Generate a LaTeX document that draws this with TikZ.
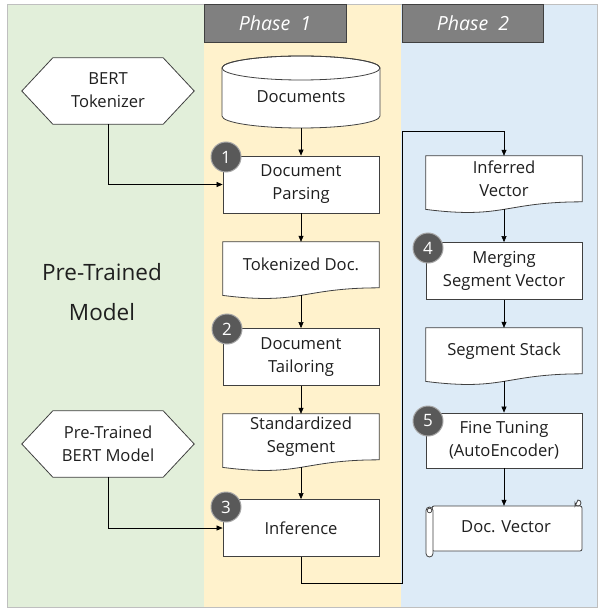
\documentclass[tikz,border=0pt]{standalone}
\usepackage{fontspec}
\setmainfont{Open Sans}
\usetikzlibrary{calc,arrows.meta}
\definecolor{bggreen}{HTML}{E2EFDA}
\definecolor{bgorange}{HTML}{FFF2CC}
\definecolor{bgblue}{HTML}{DDEBF7}
\definecolor{hdrgray}{HTML}{808080}
\definecolor{linegray}{HTML}{404040}
\definecolor{badgegray}{HTML}{595959}
\definecolor{badgering}{HTML}{A6A6A6}
\definecolor{textc}{HTML}{1F1F1F}
\definecolor{framegray}{HTML}{BFBFBF}
\newcommand\docshape[1]{\path[boxline] (#1.north west) -- (#1.north east) -- ($(#1.north east)!0.802!(#1.south east)$) .. controls ($(#1.north)!0.802!(#1.south)$) and ($(#1.north)!1.107!(#1.south)$) .. ($(#1.north west)!0.934!(#1.south west)$) -- cycle;}
\newcommand\hexshape[1]{\path[boxline] (#1.west) -- ($(#1.north west)+(31,0)$) -- ($(#1.north east)+(-31,0)$) -- (#1.east) -- ($(#1.south east)+(-31,0)$) -- ($(#1.south west)+(31,0)$) -- cycle;}
\begin{document}
\begin{tikzpicture}[x=1pt,y=-1pt,
  boxline/.style={draw=linegray, line width=0.8pt, fill=white},
  frame/.style={inner sep=0pt, minimum width=156pt, minimum height=57pt},
  hexframe/.style={inner sep=0pt, minimum width=172pt, minimum height=66pt},
  txt/.style={font=\fontsize{16.6}{23}\selectfont, align=center, text=textc, inner sep=0pt},
  procbox/.style={boxline, rectangle, minimum width=156pt, minimum height=57pt, inner sep=0pt, txt},
  badge/.style={circle, fill=badgegray, draw=badgering, line width=1pt, minimum size=30pt, inner sep=0pt, text=white, font=\fontsize{17}{17}\selectfont},
  arr/.style={-{Triangle[length=6pt,width=5pt]}, line width=0.6pt, black},
  hdr/.style={fill=hdrgray, draw=linegray, line width=0.8pt},
  hdrtxt/.style={text=white, font=\itshape\fontsize{19.5}{19.5}\selectfont, inner sep=0pt}
]
\useasboundingbox (0,0) rectangle (598,609);
% backgrounds
\fill[bggreen] (7,4) rectangle (204,607);
\fill[bgorange] (204,4) rectangle (401,607);
\fill[bgblue] (401,4) rectangle (597,607);
\draw[framegray, line width=0.8pt] (7,4) rectangle (597,607);
% headers
\draw[hdr] (204,4) rectangle (346,42);
\node[hdrtxt] (ph1) at (275,23) {Phase\ \ 1};
\draw[hdr] (402,4) rectangle (543,42);
\node[hdrtxt] (ph2) at (473,23) {Phase\ \ 2};
% side label
\node[text=textc, align=center, font=\fontsize{22.5}{40}\selectfont, inner sep=0pt] (ptm) at (102,292) {Pre-Trained\\Model};
% hexagons
\node[hexframe] (tokz) at (108,91) {};
\hexshape{tokz}
\node[txt] (tokz-t) at (108,90.5) {BERT\\Tokenizer};
\node[hexframe] (bertm) at (108,444) {};
\hexshape{bertm}
\node[txt] (bertm-t) at (108,443.5) {Pre-Trained\\BERT Model};
% cylinder
\node[inner sep=0pt, minimum width=158pt, minimum height=72pt] (docs) at (301,92) {};
\path[boxline] (222,68) -- (222,116) arc[start angle=180, end angle=0, x radius=79, y radius=12] -- (380,68) arc[start angle=0, end angle=-180, x radius=79, y radius=12] -- cycle;
\draw[linegray, line width=0.8pt] (301,68) ellipse[x radius=79, y radius=12];
\node[txt] (docs-t) at (301,97) {Documents};
% phase 1 column
\node[procbox] (parse) at (301,184.5) {Document\\Parsing};
\node[frame] (tokd) at (301,270.5) {};
\docshape{tokd}
\coordinate (tokd-b) at ($(tokd.north)!0.933!(tokd.south)$);
\node[txt] (tokd-t) at (301,264) {Tokenized Doc.};
\node[procbox] (tail) at (301,357) {Document\\Tailoring};
\node[frame] (std) at (301,442.5) {};
\docshape{std}
\coordinate (std-b) at ($(std.north)!0.933!(std.south)$);
\node[txt] (std-t) at (301,436.5) {Standardized\\Segment};
\node[procbox] (inf) at (301,528) {Inference};
% phase 2 column
\node[frame] (iv) at (504,184.5) {};
\docshape{iv}
\coordinate (iv-b) at ($(iv.north)!0.933!(iv.south)$);
\node[txt] (iv-t) at (504,178.5) {Inferred\\Vector};
\node[procbox] (merge) at (504,271) {Merging\\Segment Vector};
\node[frame] (stack) at (504,356.5) {};
\docshape{stack}
\coordinate (stack-b) at ($(stack.north)!0.933!(stack.south)$);
\node[txt] (stack-t) at (504,351) {Segment Stack};
\node[procbox, minimum height=55pt] (fine) at (504,440.5) {Fine Tuning\\(AutoEncoder)};
% scroll
\node[inner sep=0pt, minimum width=156pt, minimum height=51pt] (dv) at (504,531.5) {};
\path[boxline, rounded corners=2pt] (432,506) -- (582,506) -- (582,551) -- (432,551) -- cycle;
\path[boxline] (575,506) -- (575,503) arc[start angle=180, end angle=-90, radius=3] -- cycle;
\path[boxline, rounded corners=3.5pt] (426,507) rectangle (433,557);
\draw[linegray, line width=0.7pt] (429.5,510.5) circle[radius=2.3];
\node[txt] (dv-t) at (506,527) {Doc. Vector};
% badges
\node[badge] (b1) at (226,157) {1};
\node[badge] (b2) at (227,329) {2};
\node[badge] (b3) at (226,507) {3};
\node[badge] (b4) at (428,248) {4};
\node[badge] (b5) at (428,421) {5};
% connectors
\coordinate (j1) at (402,583);
\coordinate (j2) at (402,131);
\draw[arr] (docs.south) -- (parse.north);
\draw[arr] (tokz.south) |- (parse.west);
\draw[arr] (parse.south) -- (tokd.north);
\draw[arr] (tokd-b) -- (tail.north);
\draw[arr] (tail.south) -- (std.north);
\draw[arr] (std-b) -- (inf.north);
\draw[arr] (bertm.south) |- (inf.west);
\draw[arr] (inf.south) |- (j1) -- (j2) -| (iv.north);
\draw[arr] (iv-b) -- (merge.north);
\draw[arr] (merge.south) -- (stack.north);
\draw[arr] (stack-b) -- (fine.north);
\draw[arr] (fine.south) -- (dv.north);
\end{tikzpicture}
\end{document}
